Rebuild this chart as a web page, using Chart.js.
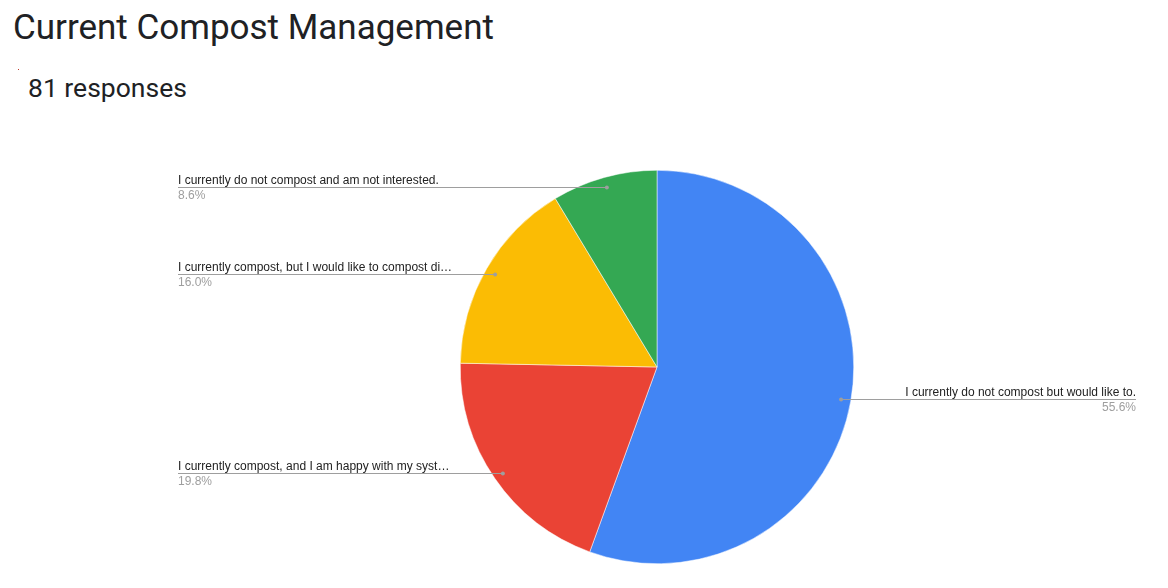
<!DOCTYPE html>
<html>
<head>
<meta charset="utf-8">
<script src="https://cdn.jsdelivr.net/npm/chart.js@4/dist/chart.umd.min.js"></script>
<style>
  html,body{margin:0;padding:0;background:#fff;width:1168px;height:588px;overflow:hidden;}
  #title{position:absolute;left:13px;top:7px;font-family:Roboto,sans-serif;font-size:35px;color:#202124;white-space:nowrap;}
  #sub{position:absolute;left:28px;top:72px;font-family:Roboto,sans-serif;font-size:26.5px;color:#202124;white-space:nowrap;}
  #dot{position:absolute;left:18px;top:69px;width:1px;height:1px;background:#c0392b;}
  canvas{position:absolute;left:0;top:0;}
</style>
</head>
<body>
<div id="title">Current Compost Management</div>
<div id="dot"></div>
<div id="sub">81 responses</div>
<canvas id="c" width="1168" height="588"></canvas>
<script>
const categories = [
  "I currently do not compost but would like to.",
  "I currently compost, and I am happy with my syst\u2026",
  "I currently compost, but I would like to compost di\u2026",
  "I currently do not compost and am not interested."
];
const responseCounts = [45, 16, 13, 7];
const sliceColors = ["#4285f4", "#ea4335", "#fbbc04", "#34a853"];

const leaderPlugin = {
  id: 'leaders',
  afterDatasetsDraw(chart, args, opts) {
    const ctx = chart.ctx;
    const meta = chart.getDatasetMeta(0);
    const data = chart.data.datasets[0].data;
    const total = data.reduce((a, b) => a + b, 0);
    ctx.save();
    meta.data.forEach((arc, i) => {
      const p = arc.getProps(['x', 'y', 'startAngle', 'endAngle', 'outerRadius'], true);
      const mid = (p.startAngle + p.endAngle) / 2;
      const px = p.x + Math.cos(mid) * p.outerRadius * 0.95;
      const py = p.y + Math.sin(mid) * p.outerRadius * 0.95;
      const left = Math.cos(mid) < 0;
      const ly = Math.round(py) + 0.5;
      ctx.strokeStyle = '#9e9e9e';
      ctx.lineWidth = 1;
      ctx.beginPath();
      if (left) { ctx.moveTo(opts.leftX, ly); ctx.lineTo(px, ly); }
      else { ctx.moveTo(px, ly); ctx.lineTo(opts.rightX, ly); }
      ctx.stroke();
      ctx.fillStyle = '#9e9e9e';
      ctx.beginPath();
      ctx.arc(px, ly, 2, 0, Math.PI * 2);
      ctx.fill();
      ctx.font = '12px "Liberation Sans", Arial, sans-serif';
      ctx.textBaseline = 'alphabetic';
      ctx.textAlign = left ? 'left' : 'right';
      const tx = left ? opts.leftX : opts.rightX;
      ctx.fillStyle = '#222222';
      ctx.fillText(chart.data.labels[i], tx, ly - 4);
      ctx.fillStyle = '#9e9e9e';
      ctx.fillText((data[i] / total * 100).toFixed(1) + '%', tx, ly + 11.5);
    });
    ctx.restore();
  }
};

new Chart(document.getElementById('c'), {
  type: 'pie',
  data: {
    labels: categories,
    datasets: [{
      data: responseCounts,
      backgroundColor: sliceColors,
      borderColor: '#ffffff',
      borderWidth: 0.5,
      hoverOffset: 0
    }]
  },
  options: {
    responsive: false,
    animation: false,
    events: [],
    layout: { padding: { top: 170, bottom: 24, left: 460, right: 314 } },
    plugins: {
      legend: { display: false },
      tooltip: { enabled: false },
      title: { display: false },
      leaders: { leftX: 178, rightX: 1136 }
    }
  },
  plugins: [leaderPlugin]
});
</script>
</body>
</html>
